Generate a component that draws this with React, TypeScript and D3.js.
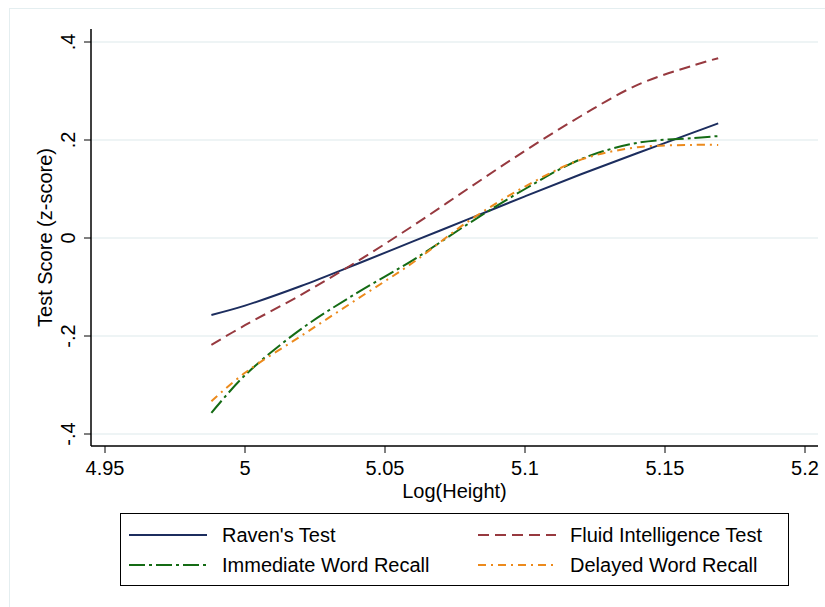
import React from 'react';
import * as d3 from 'd3';

// log(height) grid the fitted curves are read at
const heights = [4.988, 5.0, 5.02, 5.04, 5.06, 5.08, 5.1, 5.12, 5.14, 5.16, 5.169];
const ravens = [-0.157, -0.138, -0.098, -0.053, -0.007, 0.039, 0.085, 0.13, 0.173, 0.215, 0.234];
const fluid = [-0.218, -0.178, -0.116, -0.048, 0.025, 0.102, 0.178, 0.249, 0.312, 0.352, 0.367];
const immediate = [-0.357, -0.28, -0.186, -0.112, -0.045, 0.03, 0.1, 0.161, 0.194, 0.204, 0.208];
const delayed = [-0.333, -0.275, -0.2, -0.125, -0.05, 0.035, 0.105, 0.16, 0.185, 0.19, 0.19];

const xTicks = [4.95, 5, 5.05, 5.1, 5.15, 5.2];
const xTickLabels = ['4.95', '5', '5.05', '5.1', '5.15', '5.2'];
const yTicks = [-0.4, -0.2, 0, 0.2, 0.4];
const yTickLabels = ['-.4', '-.2', '0', '.2', '.4'];

const seriesNames = ["Raven's Test", 'Fluid Intelligence Test', 'Immediate Word Recall', 'Delayed Word Recall'];
const seriesValues = [ravens, fluid, immediate, delayed];
const seriesColors = ['#1c2d5e', '#97393f', '#146b14', '#ec8a1c'];
const seriesDash = ['none', '11,6', '16,4,3,4', '8,5,2,5'];

const font = '"Liberation Sans", Arial, Helvetica, sans-serif';

const App = () => {
  const W = 825;
  const H = 607;
  const left = 91;
  const right = 818;
  const top = 29;
  const bottom = 446;

  const x = d3.scaleLinear().domain([4.95, 5.2]).range([105, 805]);
  const y = d3.scaleLinear().domain([-0.4, 0.4]).range([434, 42]);

  const line = d3
    .line<number>()
    .x((d, i) => x(heights[i]))
    .y((d) => y(d))
    .curve(d3.curveCatmullRom.alpha(0.5));

  // legend layout
  const legX = 120.5;
  const legY = 513.5;
  const legW = 668;
  const legH = 72;
  const rows = [535, 565];
  const cols = [129, 478];
  const textX = [222, 570];

  return (
    <svg width={W} height={H} style={{ position: 'absolute', left: 0, top: 0, background: '#fff' }} fontFamily={font}>
      <rect x={9.5} y={8.5} width={822} height={604} fill="#fff" stroke="#e4eef0" strokeWidth={1} />

      {/* gridlines */}
      {yTicks.map((t) => (
        <line key={'g' + t} x1={left} x2={right} y1={y(t)} y2={y(t)} stroke="#e8f0f2" strokeWidth={1.5} />
      ))}

      {/* axes */}
      <line x1={left} x2={left} y1={top} y2={bottom} stroke="#000" strokeWidth={1.5} />
      <line x1={left} x2={right} y1={bottom} y2={bottom} stroke="#000" strokeWidth={1.5} />

      {yTicks.map((t, i) => (
        <g key={'y' + t}>
          <line x1={left - 7} x2={left} y1={y(t)} y2={y(t)} stroke="#000" strokeWidth={1} />
          <text
            transform={`translate(75,${y(t)}) rotate(-90)`}
            textAnchor="middle"
            fontSize={20}
            fill="#000"
          >
            {yTickLabels[i]}
          </text>
        </g>
      ))}

      {xTicks.map((t, i) => (
        <g key={'x' + t}>
          <line x1={x(t)} x2={x(t)} y1={bottom} y2={bottom + 7} stroke="#000" strokeWidth={1} />
          <text x={x(t)} y={475} textAnchor="middle" fontSize={20} fill="#000">
            {xTickLabels[i]}
          </text>
        </g>
      ))}

      <text x={(left + right) / 2} y={498} textAnchor="middle" fontSize={20} fill="#000">
        Log(Height)
      </text>
      <text transform={`translate(52,${(top + bottom) / 2}) rotate(-90)`} textAnchor="middle" fontSize={20} fill="#000">
        Test Score (z-score)
      </text>

      {/* fitted curves */}
      {seriesValues.map((vals, i) => (
        <path
          key={'s' + i}
          d={line(vals) || ''}
          fill="none"
          stroke={seriesColors[i]}
          strokeWidth={2}
          strokeDasharray={seriesDash[i]}
        />
      ))}

      {/* legend */}
      <rect x={legX} y={legY} width={legW} height={legH} fill="#fff" stroke="#000" strokeWidth={1} />
      {seriesNames.map((name, i) => {
        const cx = cols[i % 2];
        const cy = rows[Math.floor(i / 2)];
        return (
          <g key={'l' + i}>
            <line
              x1={cx}
              x2={cx + 78}
              y1={cy}
              y2={cy}
              stroke={seriesColors[i]}
              strokeWidth={2}
              strokeDasharray={seriesDash[i]}
            />
            <text x={textX[i % 2]} y={cy + 7} fontSize={20} fill="#000">
              {name}
            </text>
          </g>
        );
      })}
    </svg>
  );
};

export default App;
